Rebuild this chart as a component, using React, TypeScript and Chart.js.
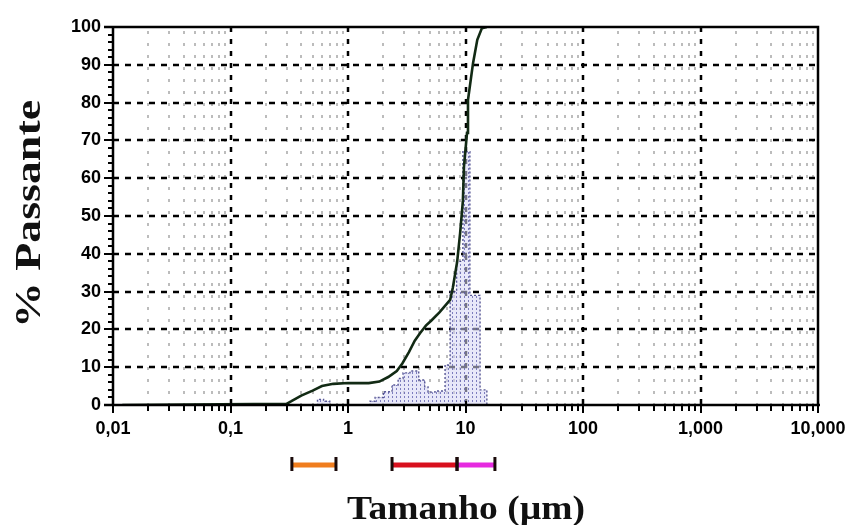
import React, { useEffect, useRef } from 'react';
import { Chart, registerables } from 'chart.js';

Chart.register(...registerables);

// ---- axis ticks ----
const xTickValues = [0.01, 0.1, 1, 10, 100, 1000, 10000];
const xTickLabels = ['0,01', '0,1', '1', '10', '100', '1,000', '10,000'];
const yTickValues = [0, 10, 20, 30, 40, 50, 60, 70, 80, 90, 100];

// ---- cumulative curve (% passante) ----
const curveSizes = [0.012, 0.3, 0.33, 0.4, 0.5, 0.6, 0.75, 1.0, 1.5, 1.85, 2.2, 2.6, 2.9, 3.3, 3.7, 4.1, 4.6, 5.1, 6.0, 7.4, 7.8, 8.5, 9.0, 9.5, 9.7, 10.3, 10.5, 11.6, 12.6, 13.8, 15.2];
const curvePassing = [0, 0.3, 1, 2.5, 3.8, 5, 5.6, 5.8, 5.8, 6.2, 7.4, 9, 11, 14, 17, 19, 21, 22.3, 24.5, 27.8, 31, 38, 45.5, 54, 63, 72, 80.7, 90.5, 96.6, 99.7, 100];

// ---- histogram (bin left edges and heights) ----
const binEdges = [0.5, 0.55, 0.62, 0.7, 1.54, 1.7, 2.0, 2.37, 2.67, 2.94, 3.37, 4.0, 4.5, 4.8, 5.5, 6.7, 7.4, 8.4, 9.5, 10.9, 13.3, 15.2];
const binHeights = [0, 1.5, 1, 0, 1, 2, 3.5, 5.3, 7, 8.5, 9, 6.6, 4.8, 3.4, 3.7, 10.6, 30, 38, 67, 29, 4, 0];

// ---- size ranges drawn under the axis ----
const rangeStarts = [0.333, 2.37, 8.47];
const rangeEnds = [0.79, 8.47, 17.8];
const rangeColors = ['#f07d1e', '#d8101e', '#e62ae0'];

const xTitle = 'Tamanho (µm)';
const yTitle = '% Passante';

export default function App() {
  const ref = useRef<HTMLCanvasElement>(null);

  useEffect(() => {
    document.body.style.margin = '0';
    const canvas = ref.current!;
    const pc = document.createElement('canvas');
    pc.width = 4;
    pc.height = 4;
    const pctx = pc.getContext('2d')!;
    pctx.fillStyle = 'rgba(214,214,244,0.55)';
    pctx.fillRect(0, 0, 4, 4);
    pctx.fillStyle = 'rgba(80,80,165,0.7)';
    pctx.fillRect(0, 0, 1, 2);
    const pattern = canvas.getContext('2d')!.createPattern(pc, 'repeat');

    const decor = {
      id: 'decor',
      beforeDatasetsDraw(chart: any) {
        const { ctx, chartArea: a, scales } = chart;
        const x = scales.x;
        const y = scales.y;
        ctx.save();
        ctx.strokeStyle = '#bcbcbc';
        ctx.lineWidth = 2;
        ctx.setLineDash([3, 9]);
        for (let d = 0; d < xTickValues.length - 1; d++) {
          for (let m = 2; m <= 9; m++) {
            const px = Math.round(x.getPixelForValue(xTickValues[d] * m));
            ctx.beginPath();
            ctx.moveTo(px, a.top + 4);
            ctx.lineTo(px, a.bottom);
            ctx.stroke();
          }
        }
        ctx.strokeStyle = '#000';
        ctx.lineWidth = 2.5;
        ctx.setLineDash([6, 6]);
        for (const v of yTickValues) {
          if (v === 0 || v === 100) continue;
          const py = Math.round(y.getPixelForValue(v));
          ctx.beginPath();
          ctx.moveTo(a.left, py);
          ctx.lineTo(a.right, py);
          ctx.stroke();
        }
        ctx.setLineDash([5, 7]);
        for (let i = 1; i < xTickValues.length - 1; i++) {
          const px = Math.round(x.getPixelForValue(xTickValues[i]));
          ctx.beginPath();
          ctx.moveTo(px, a.top);
          ctx.lineTo(px, a.bottom);
          ctx.stroke();
        }
        ctx.restore();
      },
      afterDraw(chart: any) {
        const { ctx, chartArea: a, scales } = chart;
        const x = scales.x;
        const y = scales.y;
        ctx.save();
        ctx.strokeStyle = '#000';
        ctx.setLineDash([]);
        ctx.lineWidth = 2.5;
        ctx.beginPath();
        ctx.moveTo(a.left - 9, a.top);
        ctx.lineTo(a.right, a.top);
        ctx.lineTo(a.right, a.bottom);
        ctx.moveTo(a.left, a.top);
        ctx.lineTo(a.left, a.bottom);
        ctx.moveTo(a.left - 9, a.bottom);
        ctx.lineTo(a.right + 2, a.bottom);
        ctx.stroke();
        ctx.lineWidth = 2;
        for (let v = 0; v <= 100; v += 2) {
          const py = Math.round(y.getPixelForValue(v));
          ctx.beginPath();
          if (v % 10 === 0) {
            ctx.moveTo(a.left - 9, py);
            ctx.lineTo(a.left + 4, py);
          } else {
            ctx.moveTo(a.left - 5, py);
            ctx.lineTo(a.left, py);
          }
          ctx.stroke();
        }
        for (let d = 0; d < xTickValues.length; d++) {
          const px = Math.round(x.getPixelForValue(xTickValues[d]));
          ctx.beginPath();
          ctx.moveTo(px, a.bottom - 4);
          ctx.lineTo(px, a.bottom + 8);
          ctx.stroke();
          if (d < xTickValues.length - 1) {
            for (let m = 2; m <= 9; m++) {
              const mx = Math.round(x.getPixelForValue(xTickValues[d] * m));
              ctx.beginPath();
              ctx.moveTo(mx, a.bottom);
              ctx.lineTo(mx, a.bottom + 6);
              ctx.stroke();
            }
          }
        }
        const ry = 465;
        for (let i = 0; i < rangeStarts.length; i++) {
          const x1 = x.getPixelForValue(rangeStarts[i]);
          const x2 = x.getPixelForValue(rangeEnds[i]);
          ctx.fillStyle = rangeColors[i];
          ctx.fillRect(x1, ry - 2.5, x2 - x1, 5);
        }
        ctx.lineWidth = 3;
        ctx.strokeStyle = '#1a0a0a';
        for (let i = 0; i < rangeStarts.length; i++) {
          for (const v of [rangeStarts[i], rangeEnds[i]]) {
            const px = x.getPixelForValue(v);
            ctx.beginPath();
            ctx.moveTo(px, ry - 8);
            ctx.lineTo(px, ry + 6);
            ctx.stroke();
          }
        }
        ctx.fillStyle = '#111';
        ctx.font = 'bold 33px "Liberation Serif", "Times New Roman", serif';
        ctx.textAlign = 'center';
        ctx.textBaseline = 'alphabetic';
        let w = ctx.measureText(xTitle).width;
        ctx.save();
        ctx.translate(466, 519);
        ctx.scale(238 / w, 1);
        ctx.fillText(xTitle, 0, 0);
        ctx.restore();

        ctx.font = 'bold 36px "Liberation Serif", "Times New Roman", serif';
        w = ctx.measureText(yTitle).width;
        ctx.save();
        ctx.translate(40, 214);
        ctx.rotate(-Math.PI / 2);
        ctx.scale(228 / w, 1);
        ctx.fillText(yTitle, 0, 0);
        ctx.restore();
        ctx.restore();
      },
    };

    const tickFont = { family: '"Liberation Sans", Arial, sans-serif', size: 18, weight: 'bold' as const };

    const chart = new Chart(canvas, {
      type: 'line',
      data: {
        datasets: [
          {
            label: 'Passante',
            data: curveSizes.map((s, i) => ({ x: s, y: curvePassing[i] })),
            borderColor: '#122a14',
            borderWidth: 2.6,
            pointRadius: 0,
            fill: false,
            tension: 0,
            order: 0,
          },
          {
            label: 'Frequência',
            data: binEdges.map((s, i) => ({ x: s, y: binHeights[i] })),
            stepped: 'before',
            borderColor: 'rgba(60,60,130,0.85)',
            borderWidth: 1.4,
            borderDash: [2, 2],
            backgroundColor: pattern as any,
            fill: 'origin',
            pointRadius: 0,
            order: 1,
          },
        ],
      },
      options: {
        animation: false,
        responsive: false,
        layout: { padding: { left: 0, top: 27, right: 35, bottom: 0 } },
        plugins: { legend: { display: false }, tooltip: { enabled: false } },
        scales: {
          x: {
            type: 'logarithmic',
            min: 0.01,
            max: 10000,
            afterBuildTicks: (scale: any) => {
              scale.ticks = xTickValues.map((v) => ({ value: v }));
            },
            afterFit: (scale: any) => {
              scale.height = 120;
              scale.paddingLeft = 0;
              scale.paddingRight = 0;
            },
            ticks: {
              autoSkip: false,
              maxRotation: 0,
              minRotation: 0,
              padding: 13,
              color: '#000',
              font: tickFont,
              callback: (_v: any, i: number) => xTickLabels[i],
            },
            grid: { display: false, drawTicks: false },
            border: { display: false },
          },
          y: {
            type: 'linear',
            min: 0,
            max: 100,
            afterBuildTicks: (scale: any) => {
              scale.ticks = yTickValues.map((v) => ({ value: v }));
            },
            afterFit: (scale: any) => {
              scale.width = 113;
              scale.paddingTop = 0;
              scale.paddingBottom = 0;
            },
            ticks: {
              padding: 12,
              color: '#000',
              font: tickFont,
              callback: (v: any) => String(v),
            },
            grid: { display: false, drawTicks: false },
            border: { display: false },
          },
        },
      },
      plugins: [decor],
    });

    return () => chart.destroy();
  }, []);

  return (
    <div style={{ width: 853, height: 525, background: '#fff' }}>
      <canvas ref={ref} width={853} height={525} style={{ display: 'block' }} />
    </div>
  );
}
